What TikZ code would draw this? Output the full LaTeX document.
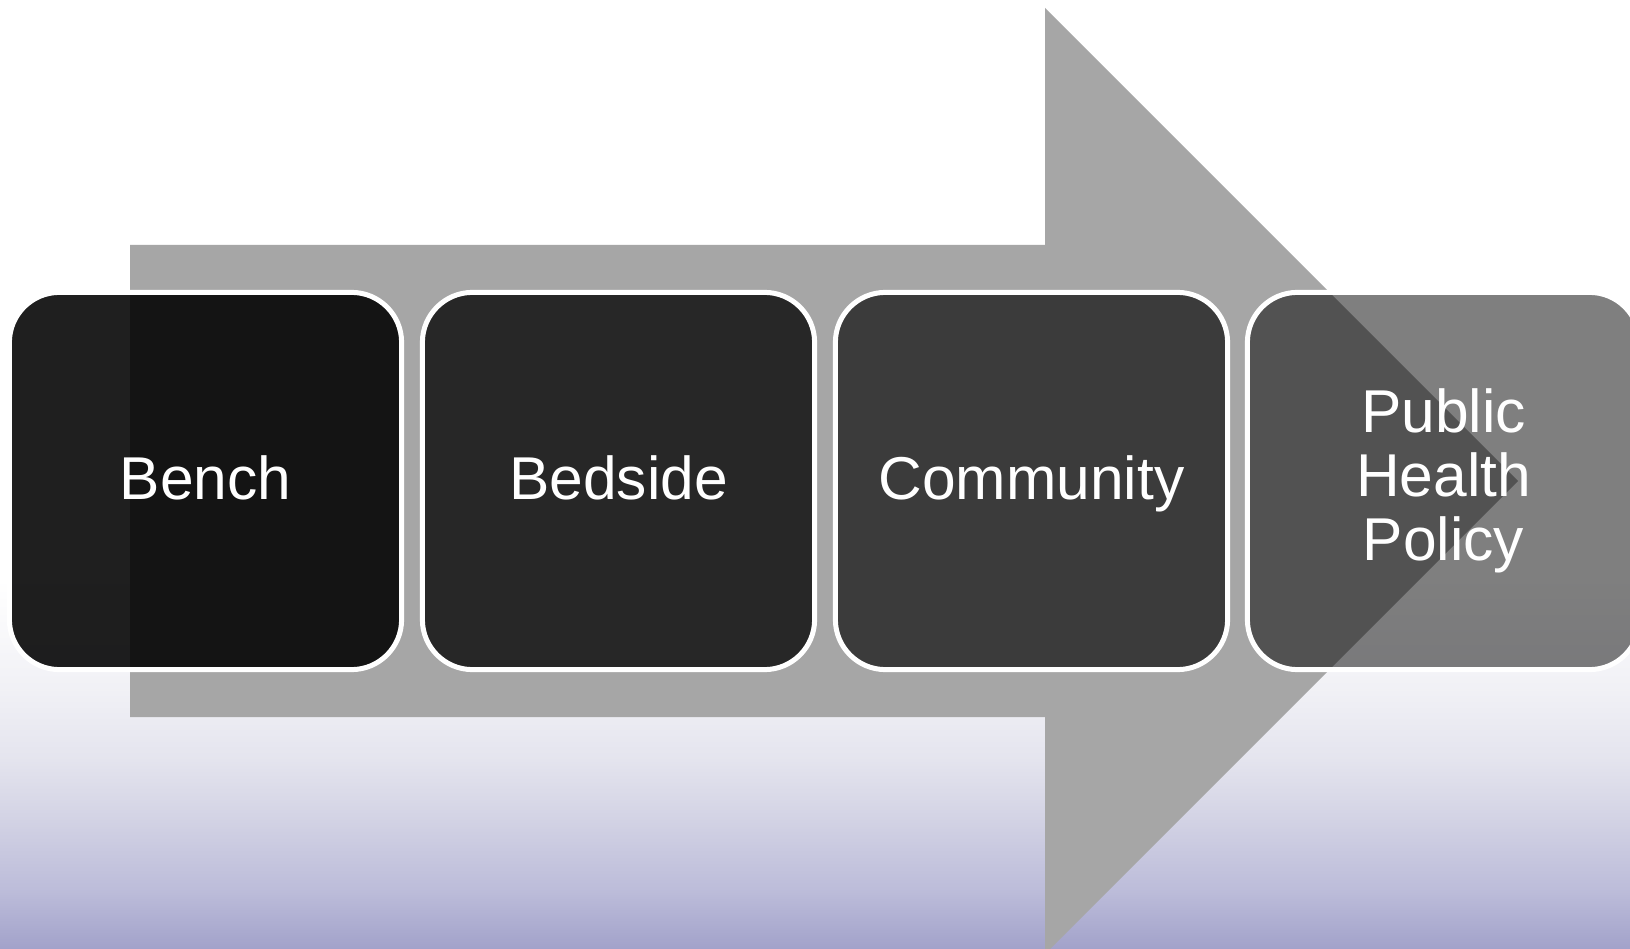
\documentclass[tikz,border=0pt]{standalone}
\usepackage{fontspec}
\setmainfont{Liberation Sans}
\usetikzlibrary{shapes,positioning}
\definecolor{arrowgrey}{RGB}{166,166,166}
\definecolor{bgA}{RGB}{240,240,245}
\definecolor{bgB}{RGB}{228,228,238}
\definecolor{bgC}{RGB}{208,208,227}
\definecolor{bgD}{RGB}{187,187,217}
\definecolor{bgE}{RGB}{162,162,202}

\begin{document}
\begin{tikzpicture}[x=0.01cm,y=-0.01cm]

  \tikzset{stage/.style={draw=white, line width=1.42pt, fill=black, text=white,
      text opacity=1, rounded corners=0.5cm, minimum width=3.92cm,
      minimum height=3.77cm, align=center, inner sep=0pt,
      font=\fontsize{17.2}{18.1}\selectfont},
    oneline/.style={text height=12.6pt, text depth=2.2pt}}

\useasboundingbox (0,0) rectangle (1630,949);
\clip (0,0) rectangle (1630,949);

% background
\fill[white] (0,0) rectangle (1630,949);
\shade[top color=white, bottom color=bgA] (0,580) rectangle (1630,694);
\shade[top color=bgA, bottom color=bgB] (0,693) rectangle (1630,761);
\shade[top color=bgB, bottom color=bgC] (0,760) rectangle (1630,828);
\shade[top color=bgC, bottom color=bgD] (0,827) rectangle (1630,894);
\shade[top color=bgD, bottom color=bgE] (0,893) rectangle (1630,949);

% big arrow behind the stages
\fill[arrowgrey] (130,245) -- (1045,245) -- (1045,8) -- (1518,481)
  -- (1045,954) -- (1045,717) -- (130,717) -- cycle;

\node[stage, oneline, fill opacity=0.88] (bench) at (205.5,481) {Bench};
\node[stage, oneline, fill opacity=0.76] (bedside) at (618.5,481) {Bedside};
\node[stage, oneline, fill opacity=0.64] (community) at (1031.5,481) {Community};
\node[stage, fill opacity=0.5] (policy) at (1443.5,481) {Public\\Health\\Policy};

\end{tikzpicture}
\end{document}
